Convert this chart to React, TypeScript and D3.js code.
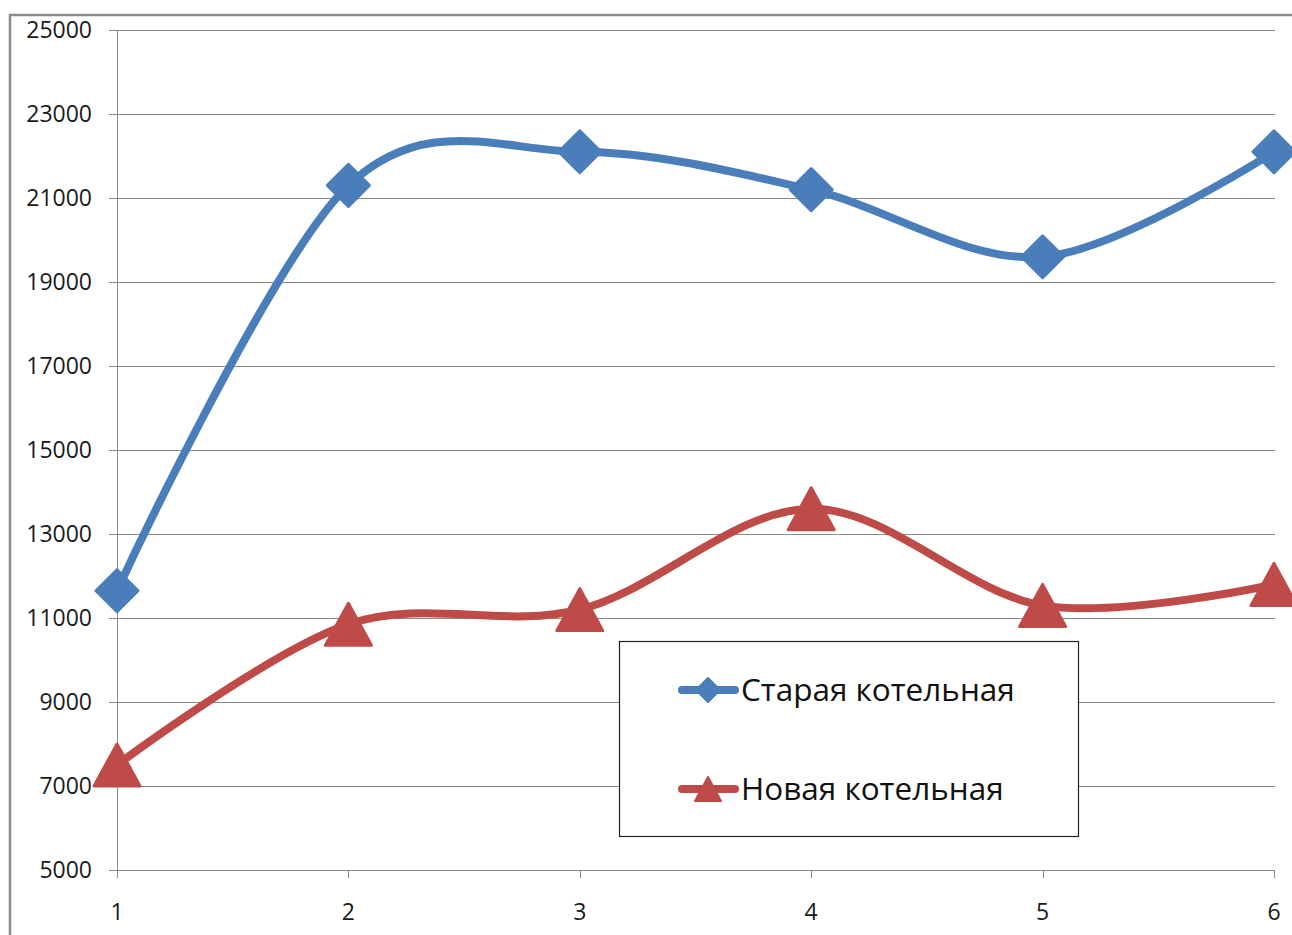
import React, { useEffect, useRef } from 'react';
import * as d3 from 'd3';

const categories = [1, 2, 3, 4, 5, 6];
const oldBoiler = [11650, 21300, 22100, 21200, 19600, 22100];
const newBoiler = [7500, 10850, 11200, 13600, 11300, 11800];
const yTicks = [5000, 7000, 9000, 11000, 13000, 15000, 17000, 19000, 21000, 23000, 25000];
const seriesNames = ['Старая котельная', 'Новая котельная'];

const BLUE = '#4A7EBB';
const RED = '#BE4B48';
const FONT = '"Open Sans", "DejaVu Sans", sans-serif';

const App: React.FC = () => {
  const svgRef = useRef<SVGSVGElement | null>(null);

  useEffect(() => {
    const svg = d3.select(svgRef.current);
    svg.selectAll('*').remove();
    const width = 1292;
    const height = 935;
    const plot = { left: 117, right: 1274, top: 30, bottom: 870 };

    svg.attr('width', width).attr('height', height);

    const x = d3.scaleLinear()
      .domain([1, 6])
      .range([plot.left, plot.right]);

    const y = d3.scaleLinear()
      .domain([5000, 25000])
      .range([plot.bottom, plot.top]);

    // Outer frame
    svg.append('rect')
      .attr('x', 10)
      .attr('y', 15)
      .attr('width', width + 20)
      .attr('height', height + 20)
      .attr('fill', 'white')
      .attr('stroke', '#8c8c8c')
      .attr('stroke-width', 2.5);

    // Gridlines
    svg.append('g')
      .selectAll('line')
      .data(yTicks)
      .enter()
      .append('line')
      .attr('x1', plot.left - 8)
      .attr('x2', plot.right + 1)
      .attr('y1', d => Math.round(y(d)) + 0.5)
      .attr('y2', d => Math.round(y(d)) + 0.5)
      .attr('stroke', '#8a8a8a')
      .attr('stroke-width', 1);

    // Y axis line
    svg.append('line')
      .attr('x1', plot.left + 0.5)
      .attr('x2', plot.left + 0.5)
      .attr('y1', plot.top)
      .attr('y2', plot.bottom + 8)
      .attr('stroke', '#8a8a8a');

    // X ticks
    svg.append('g')
      .selectAll('line')
      .data(categories)
      .enter()
      .append('line')
      .attr('x1', d => Math.round(x(d)) + 0.5)
      .attr('x2', d => Math.round(x(d)) + 0.5)
      .attr('y1', plot.bottom)
      .attr('y2', plot.bottom + 8)
      .attr('stroke', '#8a8a8a');

    // Y labels
    svg.append('g')
      .selectAll('text')
      .data(yTicks)
      .enter()
      .append('text')
      .attr('x', 92)
      .attr('y', d => y(d))
      .attr('dy', '0.36em')
      .attr('text-anchor', 'end')
      .style('font-family', FONT)
      .style('font-size', '23px')
      .attr('fill', '#1a1a1a')
      .text(d => d);

    // X labels
    svg.append('g')
      .selectAll('text')
      .data(categories)
      .enter()
      .append('text')
      .attr('x', d => x(d))
      .attr('y', 912)
      .attr('dy', '0.36em')
      .attr('text-anchor', 'middle')
      .style('font-family', FONT)
      .style('font-size', '23px')
      .attr('fill', '#1a1a1a')
      .text(d => d);

    const line = d3.line<number>()
      .x((d, i) => x(categories[i]))
      .y(d => y(d))
      .curve(d3.curveCardinal.tension(0));

    const diamond = (s: number) => `M0,${-s}L${s},0L0,${s}L${-s},0Z`;
    const triangle = (w: number, h: number) => `M0,${-h / 2}L${w / 2},${h / 2}L${-w / 2},${h / 2}Z`;

    // Series lines
    svg.append('path')
      .datum(oldBoiler)
      .attr('d', line)
      .attr('fill', 'none')
      .attr('stroke', BLUE)
      .attr('stroke-width', 8)
      .attr('stroke-linecap', 'round');

    svg.append('path')
      .datum(newBoiler)
      .attr('d', line)
      .attr('fill', 'none')
      .attr('stroke', RED)
      .attr('stroke-width', 8)
      .attr('stroke-linecap', 'round');

    // Markers
    svg.append('g')
      .selectAll('path')
      .data(oldBoiler)
      .enter()
      .append('path')
      .attr('transform', (d, i) => `translate(${x(categories[i])},${y(d)})`)
      .attr('d', diamond(21))
      .attr('fill', BLUE)
      .attr('stroke', BLUE)
      .attr('stroke-width', 3)
      .attr('stroke-linejoin', 'round');

    svg.append('g')
      .selectAll('path')
      .data(newBoiler)
      .enter()
      .append('path')
      .attr('transform', (d, i) => `translate(${x(categories[i])},${y(d)})`)
      .attr('d', triangle(46, 42))
      .attr('fill', RED)
      .attr('stroke', RED)
      .attr('stroke-width', 3)
      .attr('stroke-linejoin', 'round');

    // Legend
    const legend = svg.append('g');
    legend.append('rect')
      .attr('x', 619.5)
      .attr('y', 641.5)
      .attr('width', 459)
      .attr('height', 195)
      .attr('fill', 'white')
      .attr('stroke', '#222')
      .attr('stroke-width', 1.2);

    const entries = [
      { name: seriesNames[0], color: BLUE, marker: diamond(12), y: 690 },
      { name: seriesNames[1], color: RED, marker: triangle(26, 24), y: 789 },
    ];

    entries.forEach(e => {
      legend.append('line')
        .attr('x1', 682)
        .attr('x2', 735)
        .attr('y1', e.y)
        .attr('y2', e.y)
        .attr('stroke', e.color)
        .attr('stroke-width', 8)
        .attr('stroke-linecap', 'round');
      legend.append('path')
        .attr('transform', `translate(708,${e.y})`)
        .attr('d', e.marker)
        .attr('fill', e.color)
        .attr('stroke', e.color)
        .attr('stroke-width', 2)
        .attr('stroke-linejoin', 'round');
      legend.append('text')
        .attr('x', 741)
        .attr('y', e.y)
        .attr('dy', '0.36em')
        .style('font-family', FONT)
        .style('font-size', '31.5px')
        .attr('fill', '#111')
        .text(e.name);
    });
  }, []);

  return (
    <div style={{ position: 'absolute', left: 0, top: 0, width: 1292, height: 935, overflow: 'hidden' }}>
      <svg ref={svgRef} style={{ display: 'block' }}></svg>
    </div>
  );
};

export default App;
